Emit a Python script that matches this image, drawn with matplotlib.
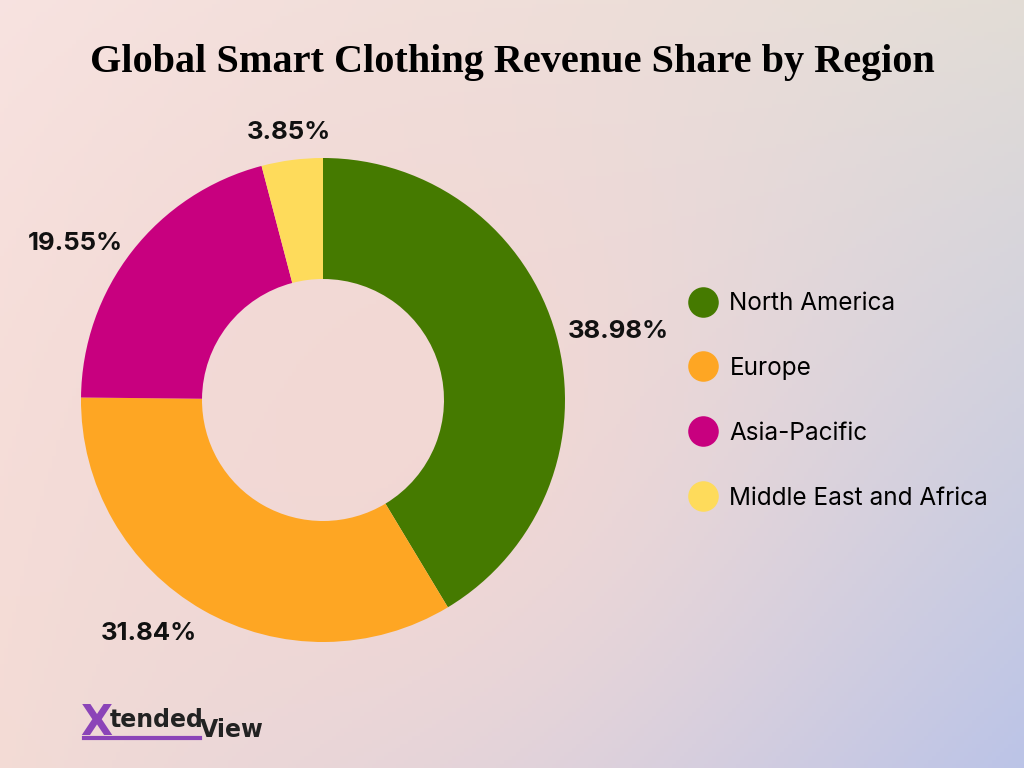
import numpy as np
import matplotlib.pyplot as plt
from matplotlib.lines import Line2D

# Data
regions = ["North America", "Europe", "Asia-Pacific", "Middle East and Africa"]
shares = [38.98, 31.84, 19.55, 3.85]
colors = ["#457a00", "#fea623", "#c8007f", "#fedb5b"]
pct_labels = [f"{v:.2f}%" for v in shares]

fig = plt.figure(figsize=(10.24, 7.68), dpi=100)

# Background gradient (bilinear between corner colours, plus a soft pink middle)
bg = fig.add_axes([0, 0, 1, 1])
bg.set_axis_off()
h, w = 192, 256
yy, xx = np.mgrid[0:1:h * 1j, 0:1:w * 1j]
tl = np.array([248, 228, 226]) / 255
tr = np.array([226, 221, 214]) / 255
bl = np.array([243, 220, 214]) / 255
br = np.array([185, 195, 232]) / 255
img = ((1 - xx)[..., None] * (1 - yy)[..., None] * tl + xx[..., None] * (1 - yy)[..., None] * tr
       + (1 - xx)[..., None] * yy[..., None] * bl + xx[..., None] * yy[..., None] * br)
mid = np.array([246, 216, 210]) / 255
wgt = np.exp(-(((xx - 0.4) / 0.4) ** 2 + ((yy - 0.55) / 0.55) ** 2))[..., None] * 0.8
img = img * (1 - wgt) + mid * wgt
bg.imshow(img, aspect="auto", extent=[0, 1, 0, 1], origin="upper")
bg.set_xlim(0, 1)
bg.set_ylim(0, 1)

# Title
fig.text(0.5, 0.918, "Global Smart Clothing Revenue Share by Region",
         ha="center", va="center", fontsize=29, fontweight="bold",
         family="Liberation Serif", color="black")

# Donut
ax = fig.add_axes([323 / 1024 - 242 / 1024, 1 - (400 + 242) / 768, 484 / 1024, 484 / 768])
wedges, texts = ax.pie(shares, colors=colors, startangle=90, counterclock=False,
                       labels=pct_labels, labeldistance=1.05,
                       wedgeprops=dict(width=0.5, linewidth=0),
                       textprops=dict(fontsize=18.5, fontweight="bold", family="Inter",
                                      color="#111111"))
ax.set_aspect("equal")
ax.set_xlim(-1, 1)
ax.set_ylim(-1, 1)
# small top slice: centre its label above the ring
x, y = texts[3].get_position()
texts[3].set_position((x * 1.06, y * 1.06))
texts[3].set_ha("center")
x, y = texts[1].get_position()
texts[1].set_position((x, y * 1.06))

# Legend
handles = [Line2D([], [], marker="o", linestyle="", markersize=22,
                  markerfacecolor=c, markeredgewidth=0) for c in colors]
fig.legend(handles, regions, loc="center left", bbox_to_anchor=(0.672, 0.478),
           frameon=False, labelspacing=1.72, handletextpad=0.5, handlelength=1.2,
           borderpad=0, borderaxespad=0, prop=dict(family="Inter", size=17.5))

# Logo
fig.text(0.078, 0.058, "X", fontsize=30, fontweight="bold", family="DejaVu Sans",
         color="#8b44b8", ha="left", va="center")
fig.text(0.107, 0.062, "tended", fontsize=17, fontweight="bold", family="DejaVu Sans",
         color="#222222", ha="left", va="center")
fig.text(0.195, 0.050, "View", fontsize=17, fontweight="bold", family="DejaVu Sans",
         color="#222222", ha="left", va="center")
fig.add_artist(Line2D([0.082, 0.195], [0.039, 0.039], color="#8b44b8", linewidth=3,
                      transform=fig.transFigure))

fig.savefig("out.png", dpi=100)
